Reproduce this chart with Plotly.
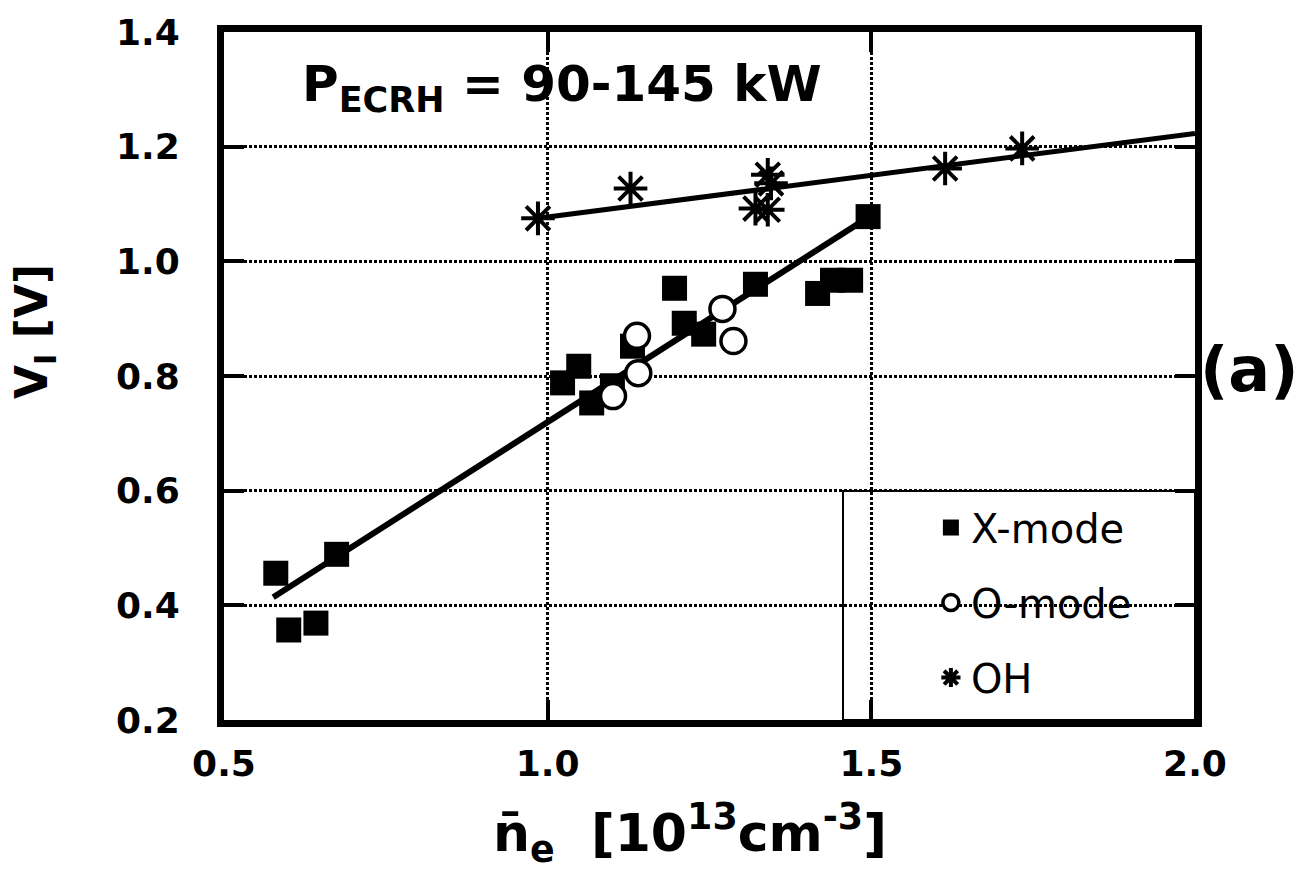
import plotly.graph_objects as go

# ---- data ----
x_mode_ne = [0.580, 0.600, 0.642, 0.674, 1.023, 1.048, 1.068, 1.100, 1.131,
             1.196, 1.211, 1.241, 1.321, 1.417, 1.440, 1.468, 1.495]
x_mode_vl = [0.456, 0.357, 0.369, 0.489, 0.788, 0.817, 0.753, 0.783, 0.852,
             0.953, 0.892, 0.873, 0.960, 0.944, 0.967, 0.967, 1.078]

o_mode_ne = [1.101, 1.140, 1.138, 1.270, 1.287]
o_mode_vl = [0.765, 0.805, 0.870, 0.917, 0.861]

oh_ne = [0.985, 1.128, 1.321, 1.340, 1.340, 1.345, 1.614, 1.733]
oh_vl = [1.075, 1.127, 1.092, 1.090, 1.151, 1.136, 1.162, 1.197]

x_fit_ne = [0.576, 1.497]
x_fit_vl = [0.414, 1.078]
oh_fit_ne = [0.985, 2.0]
oh_fit_vl = [1.075, 1.223]

x_ticks = [0.5, 1.0, 1.5, 2.0]
x_tick_labels = ["0.5", "1.0", "1.5", "2.0"]
y_ticks = [0.2, 0.4, 0.6, 0.8, 1.0, 1.2, 1.4]
y_tick_labels = ["0.2", "0.4", "0.6", "0.8", "1.0", "1.2", "1.4"]

BOLD = "DejaVu Sans"

fig = go.Figure()

fig.add_trace(go.Scatter(x=x_fit_ne, y=x_fit_vl, mode="lines",
                         line=dict(color="black", width=6), showlegend=False,
                         hoverinfo="skip"))
fig.add_trace(go.Scatter(x=x_mode_ne, y=x_mode_vl, mode="markers", name="X-mode",
                         legendgroup="x", legendrank=1,
                         marker=dict(symbol="square", size=25, color="black",
                                     line=dict(width=0))))
fig.add_trace(go.Scatter(x=oh_fit_ne, y=oh_fit_vl, mode="lines",
                         line=dict(color="black", width=5), showlegend=False,
                         hoverinfo="skip"))
fig.add_trace(go.Scatter(x=oh_ne, y=oh_vl, mode="markers", name="OH",
                         legendgroup="oh", legendrank=3,
                         marker=dict(symbol="asterisk-open", size=28, color="black",
                                     line=dict(width=4, color="black"))))
fig.add_trace(go.Scatter(x=o_mode_ne, y=o_mode_vl, mode="markers", name="O-mode",
                         legendgroup="o", legendrank=2,
                         marker=dict(symbol="circle", size=25, color="white",
                                     line=dict(width=3.5, color="black"))))

axis_common = dict(
    showline=True, linecolor="black", linewidth=7, mirror="ticks",
    ticks="inside", ticklen=20, tickwidth=4, tickcolor="black",
    showgrid=True, gridcolor="black", gridwidth=3, griddash="3px,2px",
    zeroline=False,
    tickfont=dict(family=BOLD, size=36, color="black", weight="bold"),
)

fig.update_xaxes(range=[0.5, 2.0], tickmode="array", tickvals=x_ticks,
                 ticktext=x_tick_labels, ticklabelstandoff=6, **axis_common)
fig.update_yaxes(range=[0.2, 1.4], tickmode="array", tickvals=y_ticks,
                 ticktext=y_tick_labels, ticklabelstandoff=30, **axis_common)

# legend frame (covers the grid like the original)
fig.add_shape(type="rect", xref="paper", yref="paper", x0=0.6375, x1=1.0, y0=0.0, y1=0.333,
              line=dict(color="black", width=2), fillcolor="white", layer="between")

fig.update_layout(
    width=1311, height=876,
    margin=dict(l=224, r=116, t=30, b=156),
    paper_bgcolor="white", plot_bgcolor="white",
    showlegend=True,
    legend=dict(x=0.728, y=0.327, xanchor="left", yanchor="top",
                bgcolor="rgba(0,0,0,0)", borderwidth=0,
                font=dict(family="DejaVu Sans", size=40, color="black"),
                tracegroupgap=20, itemsizing="trace"),
    annotations=[
        dict(text="P<sub>ECRH</sub> = 90-145 kW", xref="paper", yref="paper",
             x=0.078, y=0.92, xanchor="left", yanchor="middle", showarrow=False,
             font=dict(family=BOLD, size=50, color="black", weight="bold")),
        dict(text="(a)", xref="paper", yref="paper", x=1.0566, y=0.51,
             xanchor="center", yanchor="middle", showarrow=False,
             font=dict(family=BOLD, size=62, color="black", weight="bold")),
        dict(text="V<sub>I</sub> [V]", xref="paper", yref="paper",
             x=-0.1946, y=0.564, xanchor="center", yanchor="middle", textangle=-90,
             showarrow=False,
             font=dict(family=BOLD, size=44, color="black", weight="bold")),
        dict(text="n\u0304<sub>e</sub>  [10<sup>13</sup>cm<sup>-3</sup>]",
             xref="paper", yref="paper", x=0.480, y=-0.164,
             xanchor="center", yanchor="middle", showarrow=False,
             font=dict(family=BOLD, size=52, color="black", weight="bold")),
    ],
)

fig.write_html("out.html")
